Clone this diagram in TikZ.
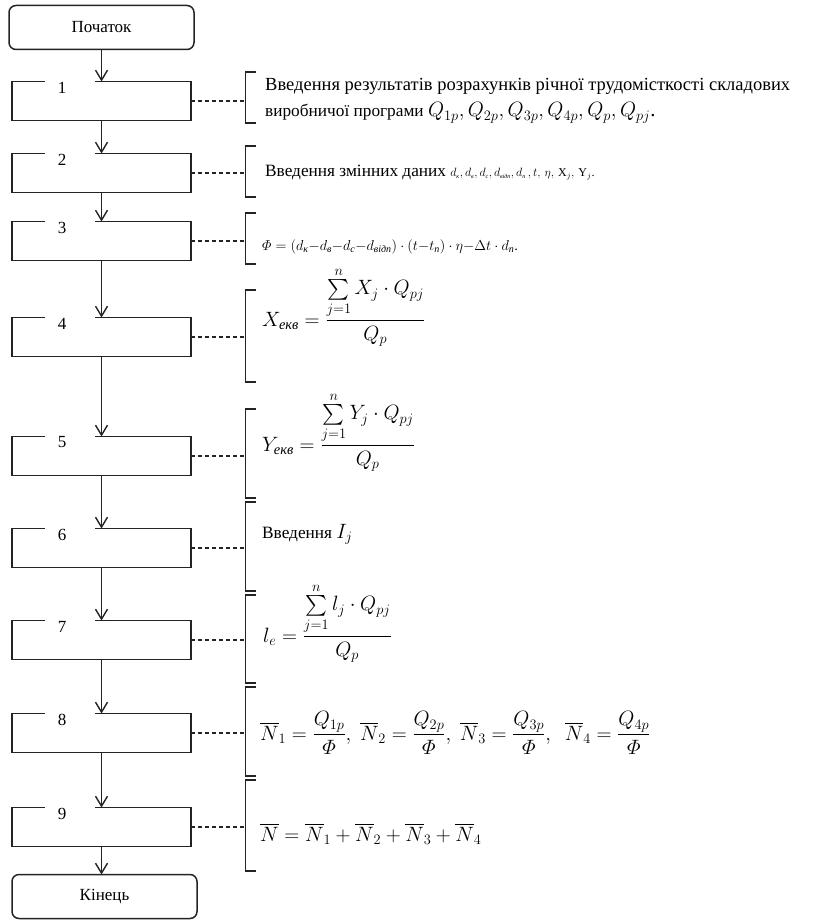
\documentclass[tikz,border=0pt]{standalone}
\usepackage{amsmath}
\usepackage{fontspec}
\setmainfont{Liberation Serif}
\usepackage{tikz}
\usetikzlibrary{arrows.meta, positioning}
\definecolor{ink}{RGB}{35,35,35}
\tikzset{
  termbox/.style={rectangle, draw=ink, rounded corners=7pt,
    minimum width=185pt, minimum height=44pt, line width=1.5pt, outer sep=0pt,
    font=\fontsize{17}{20}\selectfont},
  stepbox/.style={rectangle, minimum width=179pt, minimum height=39pt,
    inner sep=0pt, outer sep=0pt},
  stepline/.style={line width=1.6pt, color=ink},
  brkbox/.style={rectangle, minimum width=10pt, inner sep=0pt, outer sep=0pt},
  brkline/.style={line width=1.8pt, color=ink},
  arrow/.style={-{Straight Barb[length=10pt,width=12pt]}, line width=1.4pt, color=ink},
  dashline/.style={dash pattern=on 4pt off 3pt, line width=1.4pt, color=ink},
  txt/.style={anchor=base west, inner sep=0pt, font=\fontsize{17.28}{20}\selectfont},
  formula/.style={txt, font=\fontsize{20.74}{24}\selectfont}
}
% open frame of a step with its number in the gap of the top edge
\newcommand{\framestep}[2]{%
  \draw[stepline] ([xshift=33pt]#1.north west) -- (#1.north west) -- (#1.south west)
    -- (#1.south east) -- (#1.north east) -- ([xshift=-96pt]#1.north east);
  \node[font=\fontsize{17}{20}\selectfont] at ([xshift=50pt,yshift=-6pt]#1.north west) {#2};}
\newcommand{\drawbrk}[1]{%
  \draw[brkline] (#1.north east) -- (#1.north west) -- (#1.south west) -- (#1.south east);}
\newcommand{\cy}[1]{\textit{#1}}
\newcommand{\tinysub}[1]{_{\scriptscriptstyle\cy{#1}}}

\begin{document}
\begin{tikzpicture}[x=1pt, y=-1pt]
  \useasboundingbox (0,0) rectangle (813,920);

  % algorithm steps
  \node[termbox] (start) at (101.5,27.5) {Початок};
  \node[stepbox, below=32pt of start] (s1) {};
  \node[stepbox, below=33pt of s1] (s2) {};
  \node[stepbox, below=29pt of s2] (s3) {};
  \node[stepbox, below=57pt of s3] (s4) {};
  \node[stepbox, below=80pt of s4] (s5) {};
  \node[stepbox, below=53pt of s5] (s6) {};
  \node[stepbox, below=53pt of s6] (s7) {};
  \node[stepbox, below=54pt of s7] (s8) {};
  \node[stepbox, below=55pt of s8] (s9) {};
  \node[termbox, below=28pt of s9, xshift=3pt] (end) {Кінець};

  \framestep{s1}{1}
  \framestep{s2}{2}
  \framestep{s3}{3}
  \framestep{s4}{4}
  \framestep{s5}{5}
  \framestep{s6}{6}
  \framestep{s7}{7}
  \framestep{s8}{8}
  \framestep{s9}{9}

  \draw[arrow] (start) -- (s1);
  \draw[arrow] (s1) -- (s2);
  \draw[arrow] (s2) -- (s3);
  \draw[arrow] (s3) -- (s4);
  \draw[arrow] (s4) -- (s5);
  \draw[arrow] (s5) -- (s6);
  \draw[arrow] (s6) -- (s7);
  \draw[arrow] (s7) -- (s8);
  \draw[arrow] (s8) -- (s9);
  \draw[arrow] (s9.south) -- (s9.south |- end.north);

  % brackets with the comments
  \node[brkbox, minimum height=51pt] (k1) at (250.5,97.5) {};
  \node[brkbox, minimum height=51pt] (k2) at (250.5,171.5) {};
  \node[brkbox, minimum height=51pt] (k3) at (250.5,238.5) {};
  \node[brkbox, minimum height=92pt] (k4) at (250.5,336) {};
  \node[brkbox, minimum height=89pt] (k5) at (250.5,453.5) {};
  \node[brkbox, minimum height=89pt] (k6) at (250.5,546.5) {};
  \node[brkbox, minimum height=88pt] (k7) at (250.5,639) {};
  \node[brkbox, minimum height=89pt] (k8) at (250.5,731.5) {};
  \node[brkbox, minimum height=91pt] (k9) at (250.5,825.5) {};
  \drawbrk{k1} \drawbrk{k2} \drawbrk{k3}
  \drawbrk{k4} \drawbrk{k5} \drawbrk{k6}
  \drawbrk{k7} \drawbrk{k8} \drawbrk{k9}

  \draw[dashline] (s1.east) -- (s1.east -| k1.west);
  \draw[dashline] (s2.east) -- (s2.east -| k2.west);
  \draw[dashline] (s3.east) -- (s3.east -| k3.west);
  \draw[dashline] (s4.east) -- (s4.east -| k4.west);
  \draw[dashline] (s5.east) -- (s5.east -| k5.west);
  \draw[dashline] (s6.east) -- (s6.east -| k6.west);
  \draw[dashline] (s7.east) -- (s7.east -| k7.west);
  \draw[dashline] (s8.east) -- (s8.east -| k8.west);
  \draw[dashline] (s9.east) -- (s9.east -| k9.west);

  \node[txt, font=\fontsize{18.5}{20}\selectfont] (t1) at (265,91)
    {\makebox[525pt][s]{Введення результатів розрахунків річної трудомісткості складових}};
  \node[txt] (t1b) at (265,117) {виробничої програми {\fontsize{20.74}{24}\selectfont$Q_{1p}, Q_{2p}, Q_{3p}, Q_{4p}, Q_p, Q_{pj}$.}};
  \node[txt] (t2) at (265,177) {Введення змінних даних {\fontsize{12}{14}\selectfont
    $d\tinysub{к},d\tinysub{в},d\tinysub{с},d\tinysub{відп},d\tinysub{п}\,,t,\,\eta,\,\mathrm{X}_j,\,\mathrm{Y}_j$.}};
  \node[txt, font=\fontsize{14.4}{16}\selectfont] (t3) at (262,250)
    {$\varPhi = (d_{\cy{к}}{-}d_{\cy{в}}{-}d_{\cy{с}}{-}d_{\cy{відп}})\cdot(t{-}t_{\cy{п}})\cdot\eta{-}\Delta t\cdot d_{\cy{п}}$.};
  \node[formula] (t4) at (262,326) {$X_{\cy{екв}} = \dfrac{\sum\limits_{j=1}^{n} X_j \cdot Q_{pj}}{Q_p}$};
  \node[formula] (t5) at (262,451) {$Y_{\cy{екв}} = \dfrac{\sum\limits_{j=1}^{n} Y_j \cdot Q_{pj}}{Q_p}$};
  \node[txt] (t6) at (262,538) {Введення {\fontsize{20.74}{24}\selectfont$I_j$}};
  \node[formula] (t7) at (263,642) {$l_e = \dfrac{\sum\limits_{j=1}^{n} l_j \cdot Q_{pj}}{Q_p}$};
  \node[formula] (t8) at (260,740) {$\overline{N}_1 = \dfrac{Q_{1p}}{\varPhi},\ \overline{N}_2 = \dfrac{Q_{2p}}{\varPhi},\ \overline{N}_3 = \dfrac{Q_{3p}}{\varPhi},\ \ \overline{N}_4 = \dfrac{Q_{4p}}{\varPhi}$};
  \node[formula] (t9) at (260,841) {$\overline{N} = \overline{N}_1 + \overline{N}_2 + \overline{N}_3 + \overline{N}_4$};
\end{tikzpicture}
\end{document}
